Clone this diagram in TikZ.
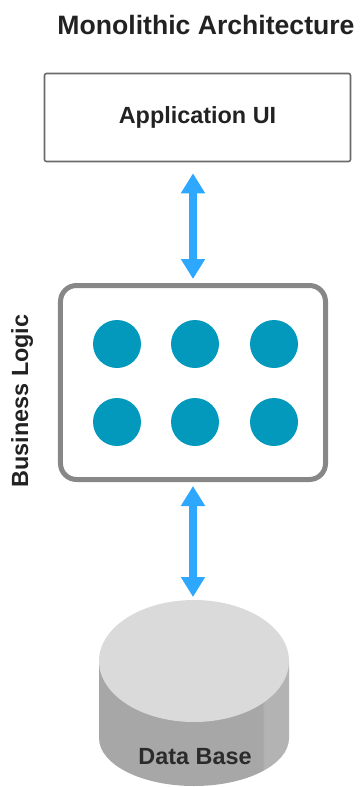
\documentclass[tikz,border=0pt]{standalone}
\usepackage{fontspec}
\setmainfont{Liberation Sans}
\usetikzlibrary{arrows.meta}
\definecolor{titlecol}{HTML}{222222}
\definecolor{arrowblue}{HTML}{2EA8FF}
\definecolor{dotteal}{HTML}{0399BC}
\definecolor{blborder}{HTML}{878787}
\definecolor{uiborder}{HTML}{6A6A6A}
\definecolor{dbtopcol}{HTML}{DADADA}
\definecolor{dbside}{HTML}{A7A7A7}
\definecolor{dbsidelight}{HTML}{B3B3B3}
\definecolor{dbsidedark}{HTML}{9C9C9C}
\definecolor{dbtext}{HTML}{2B2B2B}
\pgfdeclarehorizontalshading{dbsideshade}{100bp}{color(0bp)=(dbsidedark); color(12bp)=(dbside); color(68bp)=(dbside); color(68.5bp)=(dbsidelight); color(85bp)=(dbsidelight); color(85.5bp)=(dbside); color(100bp)=(dbside)}
\tikzset{
  labelfont/.style={font=\fontsize{23.5}{26}\selectfont\bfseries},
  uibox/.style={draw=uiborder, line width=1.6bp, rounded corners=2bp, minimum width=306bp, minimum height=88bp, inner sep=0pt, labelfont, text=titlecol},
  blbox/.style={draw=blborder, line width=5bp, rounded corners=16bp, minimum width=265bp, minimum height=194bp, inner sep=0pt},
  dot/.style={circle, fill=dotteal, minimum size=48bp, inner sep=0pt},
  dblarrow/.style={draw=arrowblue, line width=8bp, {Triangle[width=23bp,length=20bp]}-{Triangle[width=23bp,length=20bp]}}
}
\begin{document}
\begin{tikzpicture}[x=1bp,y=-1bp]
\useasboundingbox (0,0) rectangle (360,787);
\clip (0,0) rectangle (360,787);
\node[font=\fontsize{26.7}{30}\selectfont\bfseries, text=titlecol] (title) at (206,25) {Monolithic Architecture};
\node[uibox] (ui) at (197.5,117.5) {Application UI};
\node[blbox] (bl) at (193,382.5) {};
\node[dot] (d1) at (117,344) {};
\node[dot] (d2) at (195,344) {};
\node[dot] (d3) at (274,344) {};
\node[dot] (d4) at (117,422) {};
\node[dot] (d5) at (195,422) {};
\node[dot] (d6) at (274,422) {};
\node[labelfont, text=titlecol, rotate=90] (bltxt) at (22,401) {Business Logic};
% database cylinder
\shade[shading=dbsideshade] (99,661) rectangle (289,738);
\shade[shading=dbsideshade] (194,738) ellipse [x radius=95, y radius=48];
\fill[dbtopcol] (194,661) ellipse [x radius=95, y radius=61];
\coordinate (dbtop) at (193,600);
\node[labelfont, text=dbtext] (db) at (195,757) {Data Base};
% connectors
\draw[dblarrow, shorten <=11bp, shorten >=4bp] (bl.north |- ui.south) -- (bl.north);
\draw[dblarrow, shorten <=4bp, shorten >=3bp] (bl.south) -- (dbtop);
\end{tikzpicture}
\end{document}
